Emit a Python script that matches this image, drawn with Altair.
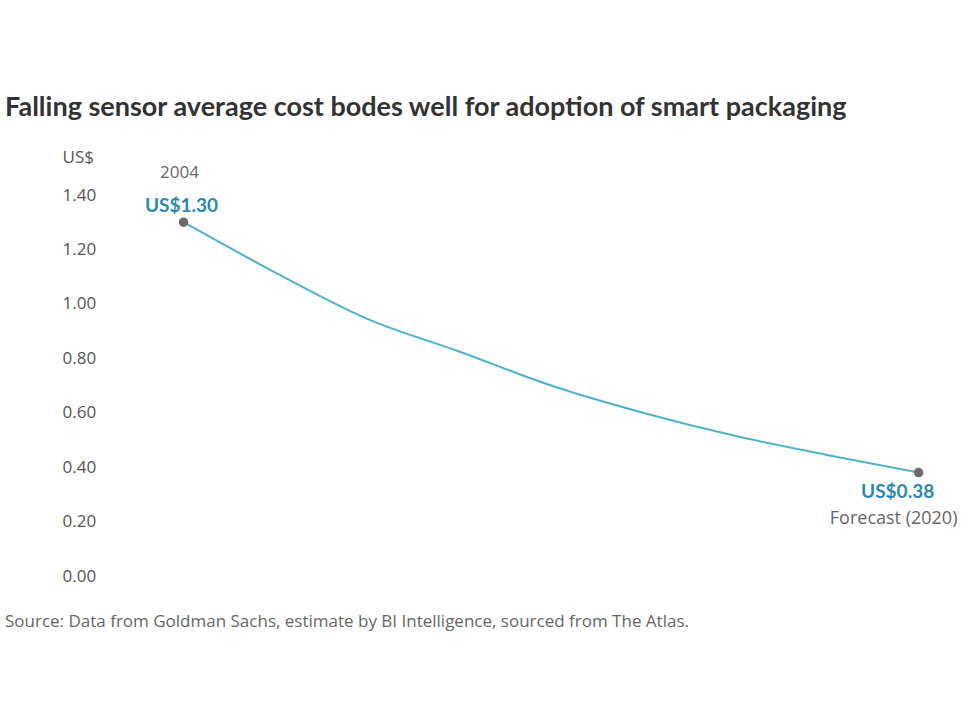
import altair as alt
import pandas as pd

# ---- data ----
years = [2004, 2006, 2008, 2010, 2012, 2014, 2016, 2018, 2020]
cost = [1.30, 1.115, 0.945, 0.825, 0.70, 0.60, 0.515, 0.445, 0.38]

end_years = [2004, 2020]
end_values = [1.30, 0.38]
value_labels = ["US$1.30", "US$0.38"]
period_labels = ["2004", "Forecast (2020)"]

y_ticks = [0.0, 0.2, 0.4, 0.6, 0.8, 1.0, 1.2, 1.4]

title_text = "Falling sensor average cost bodes well for adoption of smart packaging"
source_text = "Source: Data from Goldman Sachs, estimate by BI Intelligence, sourced from The Atlas."

df = pd.DataFrame({"year": years, "cost": cost})
ends = pd.DataFrame({"year": end_years, "cost": end_values,
                     "vlabel": value_labels, "plabel": period_labels})
src = pd.DataFrame({"t": [source_text]})

LINE = "#4cb3cb"
BLUE = "#2b88b0"
GREY = "#6b6b6b"
COND = "Lato"

xenc = alt.X("year:Q", scale=alt.Scale(domain=[2002.4, 2020.4], nice=False), axis=None)
yenc = alt.Y("cost:Q", scale=alt.Scale(domain=[0, 1.4], nice=False),
             axis=alt.Axis(values=y_ticks, format=".2f", title="US$", grid=False,
                           domain=False, ticks=False, labelAlign="left",
                           labelBaseline="middle", labelPadding=48,
                           labelFont="Open Sans", labelFontSize=17, labelColor="#555555",
                           titleAngle=0, titleAlign="left", titleX=-48, titleY=-38,
                           titleBaseline="middle", titleFont="Open Sans",
                           titleFontSize=17, titleFontWeight="normal",
                           titleColor="#555555"))

line = alt.Chart(df).mark_line(color=LINE, strokeWidth=2, interpolate="monotone").encode(
    x=xenc, y=yenc)

pts = alt.Chart(ends).mark_point(filled=True, color=GREY, size=90, opacity=1).encode(
    x="year:Q", y="cost:Q")

start_val = alt.Chart(ends).transform_filter("datum.year == 2004").mark_text(
    font=COND, fontWeight="bold", fontSize=19, color=BLUE,
    baseline="middle", align="center", dx=-2, dy=-16).encode(x="year:Q", y="cost:Q", text="vlabel:N")
start_per = alt.Chart(ends).transform_filter("datum.year == 2004").mark_text(
    font="Open Sans", fontSize=17, color="#666666",
    baseline="middle", align="center", dx=-4, dy=-49).encode(x="year:Q", y="cost:Q", text="plabel:N")
end_val = alt.Chart(ends).transform_filter("datum.year == 2020").mark_text(
    font=COND, fontWeight="bold", fontSize=19, color=BLUE,
    baseline="middle", align="center", dx=-21, dy=19).encode(x="year:Q", y="cost:Q", text="vlabel:N")
end_per = alt.Chart(ends).transform_filter("datum.year == 2020").mark_text(
    font="Open Sans", fontSize=18, color="#666666",
    baseline="middle", align="center", dx=-25, dy=46).encode(x="year:Q", y="cost:Q", text="plabel:N")

source = alt.Chart(src).mark_text(
    font="Open Sans", fontSize=17, color="#666666", align="left", baseline="middle").encode(
    x=alt.value(-105), y=alt.value(427), text="t:N")

chart = alt.layer(line, pts, start_val, start_per, end_val, end_per, source).properties(
    width=827, height=381,
    title=alt.TitleParams(title_text, anchor="start", frame="group", dx=-105, offset=26,
                          font=COND, fontSize=27, fontWeight="bold",
                          color="#333333"),
    autosize=alt.AutoSizeParams(type="none"),
    padding={"left": 110, "top": 195, "right": 24, "bottom": 145},
    background="white",
).configure_view(stroke=None)

chart.save("out.html", embed_options={"renderer": "svg", "actions": False})
